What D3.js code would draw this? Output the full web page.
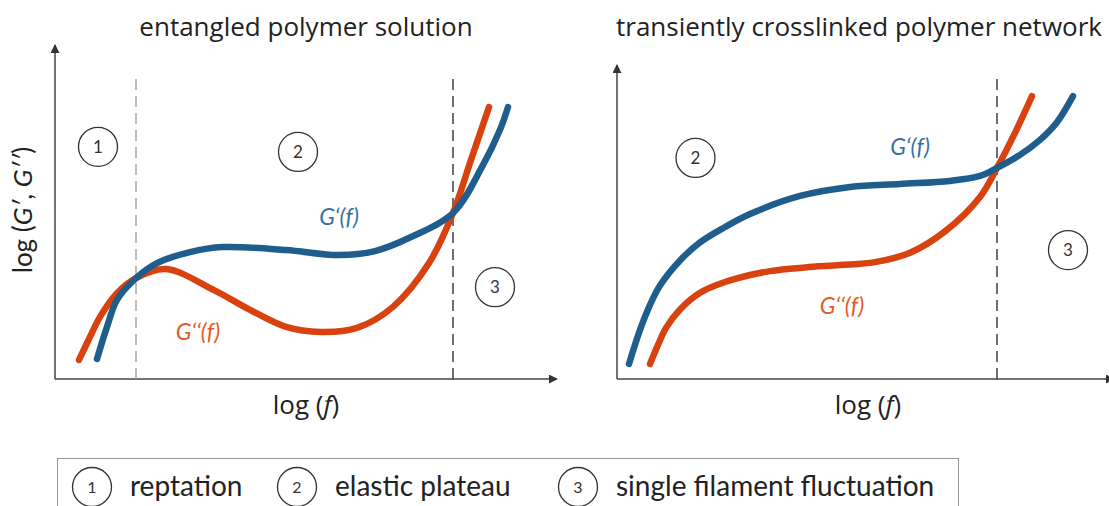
<!DOCTYPE html>
<html lang="en">
<head>
<meta charset="UTF-8">
<title>G' and G'' regimes</title>
<script src="https://d3js.org/d3.v7.min.js"></script>
<style>
  body { margin: 0; background: #fff; }
  svg { display: block; font-family: Lato, "Open Sans", sans-serif; }
</style>
</head>
<body>
<script>
// curve points in arbitrary log units, x = log(f), y = log(G)
const entangledGp = [[8.4,6],[10.4,15.6],[12.4,23.7],[16.2,30.2],[20.4,34.7],[27,38],[33.6,39.5],[46.2,38.6],[56.8,37.1],[64,38.3],[71.2,42.5],[79.6,49.7],[85.4,63.5],[89,74.6],[90.6,81.4]];
const entangledGpp = [[4.8,5.7],[7,12.6],[9,18.6],[12.4,25.7],[16.2,30.2],[22.2,32.9],[31.8,26.6],[39,20.7],[46.2,15.6],[53.2,14.1],[60.4,15.3],[67.6,21.6],[74.8,34.7],[79.6,49.7],[83.2,65.6],[86.8,81.4]];
const networkGp = [[2.4,4.5],[4.6,14.7],[6.6,22.2],[8.6,28],[12.6,35.5],[16.6,40.9],[21.6,45.5],[26.6,49.4],[36.6,54.8],[46.6,57.5],[56.6,58.4],[66.6,59.3],[72.6,60.8],[76,63.2],[80.6,67.1],[84.6,71.6],[88,76.9],[91.2,84.7]];
const networkGpp = [[6.6,4.5],[8.2,10.2],[9.8,15.3],[12.6,20.8],[16.6,25.8],[20.2,28.3],[23.6,30],[30.6,32.3],[37.6,33.4],[44.6,34.1],[51.6,35],[58.6,37.8],[65.6,44.2],[72.6,54.5],[76,63.2],[79.6,73.7],[83,84.7]];

const titles = ["entangled polymer solution", "transiently crosslinked polymer network"];
const boundaries = [[16.2, 79.6], [76]];           // dashed regime borders
const regionMarks = [
  [{n: "1", x: 8.6, y: 69.5}, {n: "2", x: 48.6, y: 68}, {n: "3", x: 88, y: 27.5}],
  [{n: "2", x: 15.7, y: 66.2}, {n: "3", x: 90.2, y: 38.6}]
];
const gpLabelPos = [[56.8, 48.5], [58.6, 69.5]];
const gppLabelPos = [[28.6, 14.1], [45, 21.9]];
const legendItems = [["1", "reptation"], ["2", "elastic plateau"], ["3", "single filament fluctuation"]];

const W = 1109, H = 506;
const blue = "#1f5d8c", red = "#d9420f";
const blueText = "#3572a3", redText = "#e45a28";

const svg = d3.select("body").append("svg").attr("width", W).attr("height", H);

svg.append("defs").append("marker")
  .attr("id", "arrow").attr("viewBox", "0 0 10 10")
  .attr("refX", 9).attr("refY", 5)
  .attr("markerWidth", 9).attr("markerHeight", 9)
  .attr("markerUnits", "userSpaceOnUse")
  .attr("orient", "auto")
  .append("path").attr("d", "M0,0L10,5L0,10Z").attr("fill", "#333");

const panels = [
  {x0: 55, x1: 557, top: 45, title: titles[0], titleX: 306, gp: entangledGp, gpp: entangledGpp},
  {x0: 617, x1: 1114, top: 65, title: titles[1], titleX: 616, gp: networkGp, gpp: networkGpp}
];
const axisY = 379;

panels.forEach((p, i) => {
  const x = d3.scaleLinear().domain([0, 100]).range([p.x0, p.x0 + 500]);
  const y = d3.scaleLinear().domain([0, 100]).range([axisY, axisY - 334]);
  const g = svg.append("g");

  // title
  g.append("text")
    .attr("x", p.titleX).attr("y", 36)
    .attr("text-anchor", i === 0 ? "middle" : "start")
    .attr("font-family", "'Open Sans', sans-serif")
    .attr("font-size", 26).attr("fill", "#222")
    .text(p.title);

  // axes with arrow heads
  g.append("line").attr("x1", p.x0).attr("y1", axisY).attr("x2", p.x0).attr("y2", p.top)
    .attr("stroke", "#444").attr("stroke-width", 1.5).attr("marker-end", "url(#arrow)");
  g.append("line").attr("x1", p.x0).attr("y1", axisY).attr("x2", p.x1).attr("y2", axisY)
    .attr("stroke", "#444").attr("stroke-width", 1.5).attr("marker-end", "url(#arrow)");

  // x label
  const xl = g.append("text")
    .attr("x", x(50) + 1).attr("y", 414)
    .attr("text-anchor", "middle")
    .attr("font-family", "'Open Sans', sans-serif")
    .attr("font-size", 26).attr("fill", "#222");
  xl.append("tspan").text("log (");
  xl.append("tspan").attr("font-style", "italic").text("f");
  xl.append("tspan").text(")");

  // dashed regime borders
  boundaries[i].forEach((b, j) => {
    g.append("line")
      .attr("x1", x(b)).attr("x2", x(b))
      .attr("y1", y(0)).attr("y2", y(90.4))
      .attr("stroke", (i === 0 && j === 0) ? "#999" : "#222")
      .attr("stroke-width", 1.3)
      .attr("stroke-dasharray", "11,6");
  });

  // curves
  const line = d3.line().x(d => x(d[0])).y(d => y(d[1])).curve(d3.curveCatmullRom.alpha(0.5));
  g.append("path").datum(p.gpp).attr("d", line)
    .attr("fill", "none").attr("stroke", red).attr("stroke-width", 6.5).attr("stroke-linecap", "round");
  g.append("path").datum(p.gp).attr("d", line)
    .attr("fill", "none").attr("stroke", blue).attr("stroke-width", 6.5).attr("stroke-linecap", "round");

  // curve labels
  g.append("text")
    .attr("x", x(gpLabelPos[i][0])).attr("y", y(gpLabelPos[i][1]) + 8)
    .attr("text-anchor", "middle").attr("font-size", 23).attr("font-style", "italic")
    .attr("fill", blueText).text("G‘(f)");
  g.append("text")
    .attr("x", x(gppLabelPos[i][0])).attr("y", y(gppLabelPos[i][1]) + 8)
    .attr("text-anchor", "middle").attr("font-size", 23).attr("font-style", "italic")
    .attr("fill", redText).text("G‘‘(f)");

  // circled regime numbers
  regionMarks[i].forEach(m => {
    g.append("circle").attr("cx", x(m.x)).attr("cy", y(m.y)).attr("r", 19.5)
      .attr("fill", "none").attr("stroke", "#333").attr("stroke-width", 1.3);
    g.append("text").attr("x", x(m.x)).attr("y", y(m.y) + 6)
      .attr("text-anchor", "middle").attr("font-size", 17).attr("fill", "#333").text(m.n);
  });
});

// y axis label
const yl = svg.append("text")
  .attr("transform", "translate(32,210) rotate(-90)")
  .attr("text-anchor", "middle").attr("font-size", 26).attr("fill", "#222");
yl.append("tspan").text("log (");
yl.append("tspan").attr("font-style", "italic").text("G′");
yl.append("tspan").text(", ");
yl.append("tspan").attr("font-style", "italic").text("G′′");
yl.append("tspan").text(")");

// legend
const legend = svg.append("g");
legend.append("rect").attr("x", 57.5).attr("y", 458.5).attr("width", 901).attr("height", 70)
  .attr("fill", "none").attr("stroke", "#999").attr("stroke-width", 1);
const legendX = [92, 297, 578];
legendItems.forEach((d, i) => {
  legend.append("circle").attr("cx", legendX[i]).attr("cy", 487).attr("r", 19.5)
    .attr("fill", "none").attr("stroke", "#333").attr("stroke-width", 1.3);
  legend.append("text").attr("x", legendX[i]).attr("y", 493)
    .attr("text-anchor", "middle").attr("font-size", 16).attr("fill", "#333").text(d[0]);
  legend.append("text").attr("x", legendX[i] + 38).attr("y", 496)
    .attr("font-size", 28).attr("fill", "#222").text(d[1]);
});
</script>
</body>
</html>
